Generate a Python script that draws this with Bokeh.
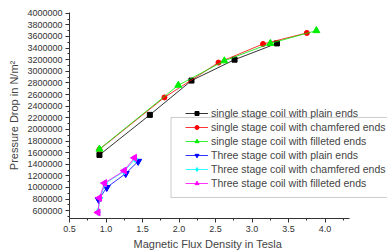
import math
from bokeh.plotting import figure
from bokeh.models import (Legend, LegendItem, FixedTicker, NumeralTickFormatter,
                          BoxAnnotation, Range1d, Title)
from bokeh.embed import file_html
from bokeh.resources import INLINE

# ---- data ----
single_plain_x = [0.91, 1.60, 2.17, 2.76, 3.34]
single_plain_y = [1560000, 2250000, 2840000, 3200000, 3480000]
single_chamf_x = [0.91, 1.80, 2.54, 3.15, 3.75]
single_chamf_y = [1655000, 2550000, 3150000, 3470000, 3660000]
single_fillet_x = [0.91, 1.99, 2.62, 3.25, 3.88]
single_fillet_y = [1660000, 2760000, 3180000, 3480000, 3700000]
three_plain_x = [0.90, 1.01, 1.27, 1.44]
three_plain_y = [790000, 1000000, 1240000, 1450000]
three_chamf_x = [0.89, 0.92, 0.99, 1.25, 1.40]
three_chamf_y = [580000, 820000, 1070000, 1280000, 1490000]
three_fillet_x = [0.89, 0.91, 0.98, 1.25, 1.39]
three_fillet_y = [570000, 820000, 1075000, 1290000, 1510000]

series_labels = [
    "single stage coil with plain ends",
    "single stage coil with chamfered ends",
    "single stage coil with filleted ends",
    "Three stage coil with plain ends",
    "Three stage coil with chamfered ends",
    "Three stage coil with filleted ends",
]

x_ticks = [0.5, 1.0, 1.5, 2.0, 2.5, 3.0, 3.5, 4.0]
y_ticks = [600000, 800000, 1000000, 1200000, 1400000, 1600000, 1800000,
           2000000, 2200000, 2400000, 2600000, 2800000, 3000000, 3200000,
           3400000, 3600000, 3800000, 4000000]
x_title = "Magnetic Flux Density in Tesla"
y_title = "Pressure Drop in N/m\u00b2"

p = figure(width=387, height=250, output_backend="svg", toolbar_location=None,
           x_range=Range1d(0.5, 4.854), y_range=Range1d(466000, 4012000),
           min_border_left=69, min_border_right=0, min_border_top=12,
           min_border_bottom=0)
p.outline_line_color = None
p.grid.visible = False
p.background_fill_color = "white"

font = "Liberation Sans"
for ax in (p.xaxis[0], p.yaxis[0]):
    ax.major_label_text_font = font
    ax.major_label_text_font_size = "9px"
    ax.major_label_text_color = "#333333"
    ax.axis_label_text_font = font
    ax.axis_label_text_font_size = "11px"
    ax.axis_label_text_font_style = "normal"
    ax.axis_label_text_color = "#444444"
    ax.axis_line_color = "#333333"
    ax.major_tick_line_color = "#333333"
    ax.minor_tick_line_color = "#333333"
    ax.major_tick_out = 4
    ax.major_tick_in = 0
    ax.minor_tick_out = 2
    ax.minor_tick_in = 0
    ax.major_label_standoff = 3
    ax.axis_label_standoff = 4

p.yaxis.axis_label = y_title
p.xaxis.bounds = (0.5, 4.33)
p.xaxis.ticker = FixedTicker(ticks=x_ticks,
                             minor_ticks=[0.75, 1.25, 1.75, 2.25, 2.75, 3.25, 3.75, 4.25])
p.yaxis.ticker = FixedTicker(ticks=y_ticks,
                             minor_ticks=[500000 + 100000 * k * 2 for k in range(18)])
p.xaxis.formatter = NumeralTickFormatter(format="0.0")
p.yaxis.formatter = NumeralTickFormatter(format="0")

# x axis title centred under the drawn axis (0.5 .. 4.33)
p.add_layout(Title(text=x_title, align="left", offset=64, text_font=font,
                   text_font_size="11px", text_font_style="normal",
                   text_color="#444444", standoff=2), "below")

# legend box
box = BoxAnnotation(left=1.89, right=20, bottom=828000, top=2205000,
                    fill_color="white", fill_alpha=1, line_color="#555555",
                    line_width=1, level="annotation")
p.add_layout(box)

specs = [
    (single_plain_x, single_plain_y, "black", "square", 5, 0),
    (single_chamf_x, single_chamf_y, "red", "circle", 5, 0),
    (single_fillet_x, single_fillet_y, "#00ee00", "triangle", 7, 0),
    (three_plain_x, three_plain_y, "blue", "inverted_triangle", 7, 0),
    (three_chamf_x, three_chamf_y, "cyan", "diamond", 7, 0),
    (three_fillet_x, three_fillet_y, "magenta", "triangle", 7, math.pi / 2),
]
items = []
for (xs, ys, col, mk, sz, ang), lab in zip(specs, series_labels):
    l = p.line(xs, ys, line_color=col, line_width=1, line_alpha=0.8)
    s = p.scatter(xs, ys, marker=mk, size=sz, fill_color=col, line_color=col,
                  angle=ang)
    items.append(LegendItem(label=lab, renderers=[l, s]))

legend = Legend(items=items, location=(112, 25), padding=4, margin=0,
                spacing=2, glyph_width=23, glyph_height=10, label_height=10,
                label_standoff=3, label_text_font=font,
                label_text_font_size="10.5px", label_text_color="#444444",
                border_line_alpha=0, background_fill_alpha=0)
p.add_layout(legend, "center")

open("out.html", "w").write(file_html(p, INLINE))
